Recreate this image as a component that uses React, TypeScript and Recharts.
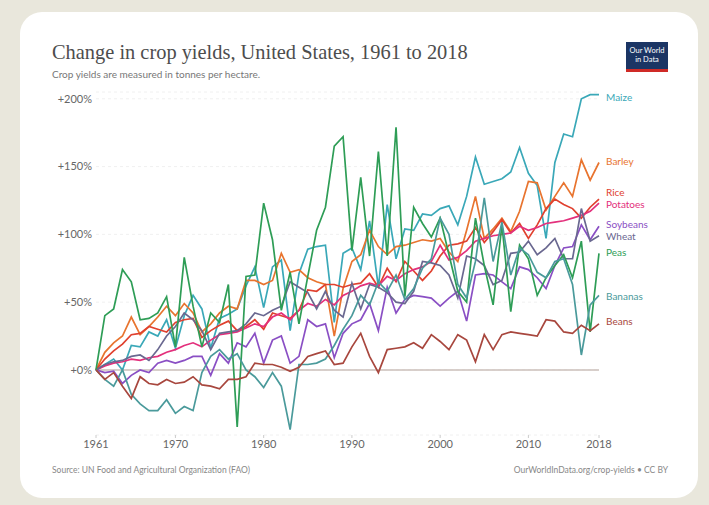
import React from 'react';
import { CartesianGrid, Line, LineChart, ReferenceLine, XAxis, YAxis } from 'recharts';

const years = [
  1961, 1962, 1963, 1964, 1965, 1966, 1967, 1968, 1969, 1970, 1971, 1972, 1973, 1974, 1975,
  1976, 1977, 1978, 1979, 1980, 1981, 1982, 1983, 1984, 1985, 1986, 1987, 1988, 1989, 1990,
  1991, 1992, 1993, 1994, 1995, 1996, 1997, 1998, 1999, 2000, 2001, 2002, 2003, 2004, 2005,
  2006, 2007, 2008, 2009, 2010, 2011, 2012, 2013, 2014, 2015, 2016, 2017, 2018,
];

const maize = [
  0, 4, 8, 0, 18, 17, 28, 25, 37, 16, 40, 55, 45, 16, 38, 41, 45, 62, 76, 46, 76, 81, 29, 71, 89,
  91, 92, 35, 86, 90, 74, 110, 61, 122, 82, 104, 103, 115, 114, 119, 121, 107, 128, 157, 137, 139,
  141, 146, 164, 145, 136, 97, 153, 174, 172, 200, 203, 203,
];
const barley = [
  0, 13, 20, 25, 39, 26, 32, 39, 47, 40, 49, 42, 28, 34, 42, 47, 45, 66, 66, 63, 66, 86, 72, 74, 68,
  65, 63, 25, 60, 80, 85, 103, 91, 85, 91, 92, 94, 96, 95, 97, 87, 80, 103, 128, 97, 104, 112, 102,
  117, 139, 138, 118, 128, 138, 128, 155, 140, 153,
];
const rice = [
  0, 8, 14, 19, 26, 27, 32, 30, 28, 35, 37, 38, 24, 29, 33, 36, 29, 32, 37, 30, 42, 40, 38, 44, 59,
  58, 63, 63, 61, 63, 64, 71, 61, 75, 65, 80, 73, 66, 73, 84, 92, 93, 95, 105, 94, 102, 111, 101,
  108, 97, 107, 119, 126, 122, 119, 112, 120, 126,
];
const potatoes = [
  0, 3, 5, 6, 8, 7, 9, 10, 13, 15, 18, 20, 17, 22, 26, 27, 28, 31, 34, 32, 39, 42, 37, 44, 49, 47,
  52, 48, 55, 58, 62, 64, 62, 69, 66, 71, 74, 76, 80, 92, 81, 83, 88, 95, 97, 99, 100, 101, 106,
  103, 105, 108, 109, 110, 112, 114, 117, 123,
];
const soybeans = [
  0, -2, -1, -10, -4, 0, -2, 5, 7, 5, 7, 10, 10, -4, 12, 5, 20, 17, 27, 5, 22, 25, 5, 10, 37, 32,
  34, 9, 27, 34, 37, 49, 29, 61, 42, 52, 55, 54, 53, 47, 53, 58, 36, 70, 71, 70, 65, 60, 76, 74,
  68, 60, 77, 90, 91, 107, 96, 106,
];
const wheat = [
  0, 4, 6, 7, 10, 11, 7, 15, 25, 32, 42, 37, 29, 15, 27, 28, 29, 34, 42, 40, 44, 47, 65, 61, 57,
  45, 58, 44, 39, 64, 45, 63, 61, 57, 50, 49, 58, 80, 79, 77, 70, 53, 84, 82, 77, 63, 66, 86, 87,
  95, 85, 90, 97, 82, 82, 119, 95, 99,
];
const peas = [
  0, 40, 45, 74, 65, 37, 38, 42, 54, 17, 83, 47, 17, 42, 35, 63, -42, 69, 70, 123, 96, 44, 72, 34,
  69, 103, 120, 165, 172, 88, 142, 84, 161, 84, 179, 54, 120, 108, 98, 112, 85, 58, 50, 112, 77,
  48, 107, 43, 92, 82, 55, 68, 77, 85, 68, 95, 28, 86,
];
const bananas = [
  0, -7, -12, 0, -18, -25, -30, -30, -22, -32, -27, -30, -2, 10, 15, 8, 12, 0, -5, -13, -2, -12,
  -44, 4, 4, 5, 8, 18, 30, 40, 55, 48, 65, 58, 70, 52, 60, 75, 82, 112, 100, 63, 53, 80, 127, 80,
  109, 70, 90, 85, 72, 68, 80, 82, 63, 11, 48, 55,
];
const beans = [
  0, -7, -2, -12, -21, -5, -10, -11, -7, -10, -9, -5, -11, -12, -14, -7, -7, -5, 5, 4, 4, 2, -1, 2,
  10, 12, 14, 4, 5, 17, 27, 10, -2, 15, 16, 17, 20, 16, 26, 21, 15, 26, 22, 6, 26, 15, 26, 28, 27,
  26, 25, 37, 36, 28, 27, 33, 29, 34,
];

const series = [
  { key: 'Maize', values: maize, color: '#3aa8b8', dy: 4 },
  { key: 'Barley', values: barley, color: '#e8742f', dy: 0 },
  { key: 'Rice', values: rice, color: '#e0412f', dy: -6 },
  { key: 'Potatoes', values: potatoes, color: '#e3307c', dy: 2 },
  { key: 'Soybeans', values: soybeans, color: '#8a4fc4', dy: -1 },
  { key: 'Wheat', values: wheat, color: '#6a6890', dy: 2 },
  { key: 'Peas', values: peas, color: '#2e9d56', dy: 0 },
  { key: 'Bananas', values: bananas, color: '#4a9a9b', dy: 2 },
  { key: 'Beans', values: beans, color: '#a8473e', dy: -1 },
];

const data = years.map((year, i) => {
  const row: Record<string, number> = { year };
  series.forEach((s) => {
    row[s.key] = s.values[i];
  });
  return row;
});

const yTicks = [0, 50, 100, 150, 200];
const xTicks = [1961, 1970, 1980, 1990, 2000, 2010, 2018];

const sans = 'Lato, "Noto Sans", sans-serif';

function endLabel(name: string, color: string, dy: number) {
  return (props: any) => {
    if (props.index !== years.length - 1) return null;
    return (
      <text
        x={props.x + 7}
        y={props.y + dy}
        fill={color}
        fontSize={10}
        fontFamily={sans}
        dominantBaseline="middle"
      >
        {name}
      </text>
    );
  };
}

export default function App() {
  return (
    <div
      style={{
        position: 'absolute',
        left: 0,
        top: 0,
        width: 709,
        height: 505,
        background: '#e9e7dc',
        overflow: 'hidden',
      }}
    >
      <div
        style={{
          position: 'absolute',
          left: 20,
          top: 12,
          width: 678,
          height: 486,
          borderRadius: 22,
          background: '#ffffff',
        }}
      />
      <div
        style={{
          position: 'absolute',
          left: 52,
          top: 40,
          fontFamily: '"Liberation Serif", serif',
          fontSize: 20.4,
          lineHeight: '24px',
          color: '#4d4d4d',
          whiteSpace: 'nowrap',
        }}
      >
        Change in crop yields, United States, 1961 to 2018
      </div>
      <div
        style={{
          position: 'absolute',
          left: 52,
          top: 67,
          fontFamily: sans,
          fontSize: 10,
          lineHeight: '14px',
          color: '#777',
          whiteSpace: 'nowrap',
        }}
      >
        Crop yields are measured in tonnes per hectare.
      </div>
      <div
        style={{
          position: 'absolute',
          left: 626,
          top: 42,
          width: 42,
          height: 30,
          background: '#1b3564',
          borderBottom: '3px solid #cf2a26',
          boxSizing: 'border-box',
          color: '#fff',
          fontFamily: sans,
          fontSize: 7.5,
          lineHeight: '9px',
          textAlign: 'center',
          paddingTop: 4,
        }}
      >
        Our World
        <br />
        in Data
      </div>
      <div style={{ position: 'absolute', left: 0, top: 0 }}>
        <LineChart
          width={709}
          height={505}
          data={data}
          margin={{ top: 92, right: 110, bottom: 40, left: 0 }}
        >
          <CartesianGrid vertical={false} stroke="#f0f0f0" strokeDasharray="3 3" />
          <XAxis
            dataKey="year"
            type="number"
            domain={[1961, 2018]}
            ticks={xTicks}
            axisLine={false}
            tickSize={3}
            tickLine={{ stroke: '#ccc' }}
            tick={{ fill: '#666', fontSize: 11, fontFamily: sans }}
            height={30}
          />
          <YAxis
            type="number"
            domain={[-48, 205]}
            allowDataOverflow
            ticks={yTicks}
            width={96}
            axisLine={false}
            tickLine={false}
            tickSize={0}
            tickMargin={4}
            tickFormatter={(v: number) => `+${v}%`}
            tick={{ fill: '#666', fontSize: 11, fontFamily: sans }}
          />
          <ReferenceLine y={0} stroke="#cbbfba" strokeWidth={1.5} />
          {series.map((s) => (
            <Line
              key={s.key}
              dataKey={s.key}
              stroke={s.color}
              strokeWidth={1.7}
              dot={false}
              isAnimationActive={false}
              label={endLabel(s.key, s.color, s.dy)}
            />
          ))}
        </LineChart>
      </div>
      <div
        style={{
          position: 'absolute',
          left: 52,
          top: 465,
          fontFamily: sans,
          fontSize: 8.5,
          color: '#888',
          whiteSpace: 'nowrap',
        }}
      >
        Source: UN Food and Agricultural Organization (FAO)
      </div>
      <div
        style={{
          position: 'absolute',
          right: 41,
          top: 465,
          fontFamily: sans,
          fontSize: 8.5,
          color: '#888',
          whiteSpace: 'nowrap',
        }}
      >
        OurWorldInData.org/crop-yields • CC BY
      </div>
    </div>
  );
}
